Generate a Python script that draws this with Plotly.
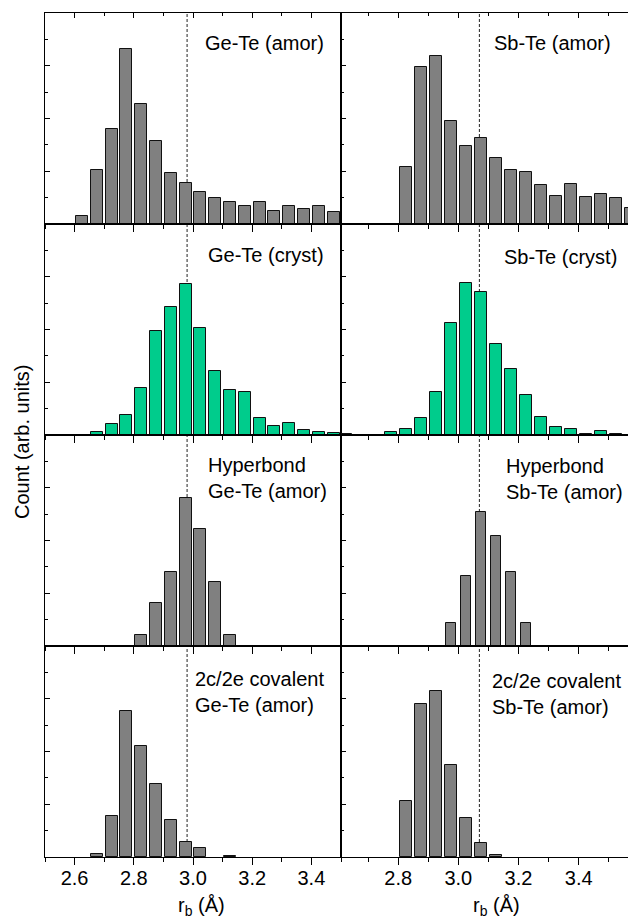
import plotly.graph_objects as go

# ---------------- data ----------------
r_left = [2.625, 2.675, 2.725, 2.775, 2.825, 2.875, 2.925, 2.975, 3.025, 3.075,
          3.125, 3.175, 3.225, 3.275, 3.325, 3.375, 3.425, 3.475]
r_right = [2.625, 2.675, 2.725, 2.775, 2.825, 2.875, 2.925, 2.975, 3.025, 3.075,
           3.125, 3.175, 3.225, 3.275, 3.325, 3.375, 3.425, 3.475, 3.525, 3.575]

gete_amor = [0.15, 1.02, 1.80, 3.32, 2.28, 1.58, 0.97, 0.77, 0.60, 0.50,
             0.41, 0.35, 0.41, 0.24, 0.35, 0.28, 0.34, 0.22]
gete_cryst = [0.0, 0.06, 0.20, 0.38, 0.90, 1.97, 2.42, 2.87, 2.03, 1.22,
              0.85, 0.82, 0.32, 0.18, 0.23, 0.10, 0.06, 0.03]
gete_hyper = [0, 0, 0, 0, 0.21, 0.81, 1.41, 2.80, 2.22, 1.22,
              0.21, 0, 0, 0, 0, 0, 0, 0]
gete_cov = [0, 0.05, 0.78, 2.77, 2.10, 1.39, 0.71, 0.29, 0.17, 0,
            0.025, 0, 0, 0, 0, 0, 0, 0]

sbte_amor = [0, 0, 0, 0, 1.09, 2.97, 3.18, 1.96, 1.47, 1.63,
             1.25, 1.02, 0.99, 0.73, 0.54, 0.75, 0.52, 0.56, 0.49, 0.30]
sbte_cryst = [0.02, 0, 0, 0.06, 0.12, 0.32, 0.82, 2.13, 2.89, 2.72,
              1.72, 1.25, 0.75, 0.35, 0.15, 0.12, 0.025, 0.07, 0.025, 0]
sbte_hyper = [0, 0, 0, 0, 0, 0, 0, 0.43, 1.33, 2.54,
              2.08, 1.41, 0.43, 0, 0, 0, 0, 0, 0, 0]
sbte_cov = [0, 0, 0, 0, 1.06, 2.90, 3.15, 1.74, 0.73, 0.26,
            0.04, 0, 0, 0, 0, 0, 0, 0, 0, 0]

ref_lines = [2.98, 3.07]  # dashed reference bond lengths (Ge-Te, Sb-Te)

left_ticks = [2.6, 2.8, 3.0, 3.2, 3.4]
right_ticks = [2.8, 3.0, 3.2, 3.4]

labels = [
    ("Ge-Te (amor)", "Sb-Te (amor)"),
    ("Ge-Te (cryst)", "Sb-Te (cryst)"),
    ("Hyperbond<br>Ge-Te (amor)", "Hyperbond<br>Sb-Te (amor)"),
    ("2c/2e covalent<br>Ge-Te (amor)", "2c/2e covalent<br>Sb-Te (amor)"),
]

# ---------------- styling / layout ----------------
W, H = 628, 920
ML, MR, MT, MB = 45, 0, 13, 63
PW, PH = W - ML - MR, H - MT - MB
FONT = "Liberation Sans, Arial, sans-serif"
GRAY = "#808080"
GREEN = "#00CC8C"
EDGE = "#111111"

def px(x):
    return (x - ML) / PW

def py(y):
    return (H - MB - y) / PH

split = 296 / PW
col_dom = [[0, split], [split, 1]]
row_dom = [[1 - (k + 1) * 0.25, 1 - k * 0.25] for k in range(4)]
xranges = [[2.5, 3.5], [2.61, 3.564]]

panels = [
    (gete_amor, sbte_amor, GRAY, GRAY),
    (gete_cryst, sbte_cryst, GREEN, GREEN),
    (gete_hyper, sbte_hyper, GRAY, GRAY),
    (gete_cov, sbte_cov, GRAY, GRAY),
]

fig = go.Figure()
layout = dict(
    width=W, height=H,
    margin=dict(l=ML, r=MR, t=MT, b=MB),
    paper_bgcolor="white", plot_bgcolor="white",
    showlegend=False,
    font=dict(family=FONT, size=20, color="black"),
    bargap=0,
)

n = 0
for row in range(4):
    for col in range(2):
        n += 1
        xa = "x" if n == 1 else f"x{n}"
        ya = "y" if n == 1 else f"y{n}"
        xs = r_left if col == 0 else r_right
        ys = [v if v else None for v in panels[row][col]]  # empty bins: no bar
        color = panels[row][2 + col]
        width = 0.034 if (row == 2 and col == 1) else 0.04
        fig.add_trace(go.Bar(
            x=xs, y=ys, width=width, xaxis=xa, yaxis=ya,
            marker=dict(color=color, line=dict(color=EDGE, width=1)),
            hoverinfo="x+y",
        ))
        bottom = row == 3
        layout[f"xaxis{n}" if n > 1 else "xaxis"] = dict(
            domain=col_dom[col], anchor=ya, range=xranges[col],
            tickmode="array", tickvals=left_ticks if col == 0 else right_ticks,
            ticktext=[f"{v:.1f}" for v in (left_ticks if col == 0 else right_ticks)],
            ticks="outside", ticklen=7, tickwidth=1, tickcolor="black",
            minor=dict(dtick=0.1, tick0=2.5, ticks="outside", ticklen=4,
                       tickwidth=1, tickcolor="black"),
            showticklabels=bottom, tickfont=dict(size=20, family=FONT, color="black"),
            ticklabelstandoff=-4,
            showline=True, linecolor="black", linewidth=1, mirror=True,
            showgrid=False, zeroline=False, fixedrange=True,
        )
        layout[f"yaxis{n}" if n > 1 else "yaxis"] = dict(
            domain=row_dom[row], anchor=xa, range=[0, 4],
            dtick=1, tick0=0, ticks="inside", ticklen=5, tickwidth=1, tickcolor="black",
            minor=dict(dtick=0.5, ticks="inside", ticklen=3, tickwidth=1,
                       tickcolor="black"),
            showticklabels=False,
            showline=True, linecolor="black", linewidth=1, mirror=(col == 0),
            showgrid=False, zeroline=False, fixedrange=True,
        )

# top-edge tick marks for the top row (pointing down, inside)
for k, (base, ybase) in enumerate([("x", "y"), ("x2", "y2")]):
    idx = 9 + k
    col = k
    layout[f"xaxis{idx}"] = dict(
        overlaying=base, anchor=ybase, side="top", range=xranges[col],
        tickmode="array", tickvals=left_ticks if col == 0 else right_ticks,
        ticks="inside", ticklen=5, tickwidth=1, tickcolor="black",
        minor=dict(dtick=0.1, tick0=2.5, ticks="inside", ticklen=3,
                   tickwidth=1, tickcolor="black"),
        showticklabels=False, showline=False, showgrid=False, zeroline=False,
        fixedrange=True,
    )
    fig.add_trace(go.Scatter(x=[None], y=[None], xaxis=f"x{idx}", yaxis=ybase,
                             mode="markers", showlegend=False, hoverinfo="skip"))

fig.update_layout(**layout)

# dashed vertical reference lines spanning all rows
for col, xv in enumerate(ref_lines):
    fig.add_shape(type="line", xref="x" if col == 0 else "x2", yref="paper",
                  x0=xv, x1=xv, y0=0, y1=1, layer="below",
                  line=dict(color="#222222", width=1, dash="3px,2px"))

# panel labels
single_pos = [
    [(325.5, 43), (613, 43)],
    [(325.5, 255), (619, 256.5)],
]
for row in range(2):
    for col in range(2):
        xp, yp = single_pos[row][col]
        fig.add_annotation(text=labels[row][col], xref="paper", yref="paper",
                           x=px(xp), y=py(yp), xanchor="right", yanchor="middle",
                           showarrow=False, font=dict(size=20, family=FONT, color="black"))
multi_pos = [
    [(206, 478), (504, 479)],
    [(193, 692), (490, 694)],
]
for r, row in enumerate([2, 3]):
    for col in range(2):
        xp, yp = multi_pos[r][col]
        fig.add_annotation(text=labels[row][col], xref="paper", yref="paper",
                           x=px(xp), y=py(yp), xanchor="left", yanchor="middle",
                           align="left", showarrow=False,
                           font=dict(size=20, family=FONT, color="black"))

# axis titles
for xc in (202, 496):
    fig.add_annotation(text="r<sub>b</sub> (Å)", xref="paper", yref="paper",
                       x=px(xc), y=py(906), xanchor="center", yanchor="middle",
                       showarrow=False, font=dict(size=20, family=FONT, color="black"))
fig.add_annotation(text="Count (arb. units)", xref="paper", yref="paper",
                   x=px(22), y=py(442), xanchor="center", yanchor="middle",
                   textangle=-90, showarrow=False,
                   font=dict(size=20, family=FONT, color="black"))

fig.write_html("out.html")
